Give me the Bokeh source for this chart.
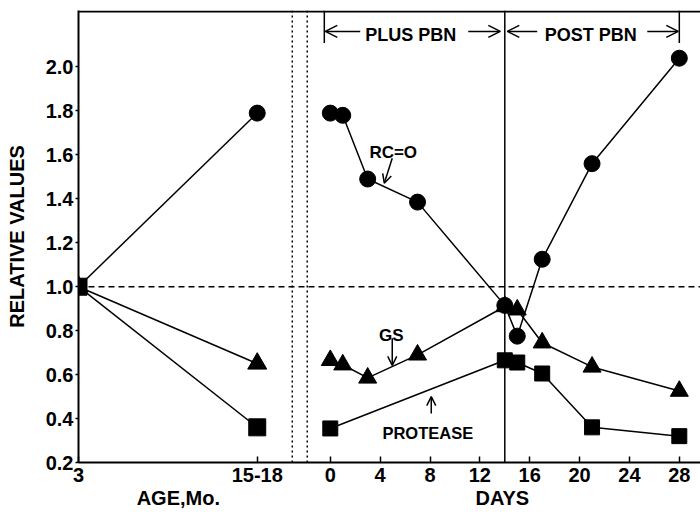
from bokeh.plotting import figure
from bokeh.models import (FixedTicker, Span, Label, Arrow, OpenHead, Range1d,
                          NumeralTickFormatter, LinearAxis)
from bokeh.embed import file_html
from bokeh.resources import INLINE

# ---------------- data ----------------
AGE_CATS = ["3", "15-18"]
RCO_AGE = [1.0, 1.79]
GS_AGE = [1.0, 0.65]
PROT_AGE = [1.0, 0.36]

RCO_DAYS = [0, 1, 3, 7, 14, 15, 17, 21, 28]
RCO_VALS = [1.79, 1.78, 1.49, 1.385, 0.915, 0.775, 1.125, 1.56, 2.04]

GS_DAYS = [0, 1, 3, 7, 14, 15, 17, 21, 28]
GS_VALS = [0.665, 0.645, 0.585, 0.69, 0.91, 0.895, 0.745, 0.635, 0.525]

PROT_DAYS = [0, 14, 15, 17, 21, 28]
PROT_VALS = [0.355, 0.665, 0.655, 0.605, 0.36, 0.32]

DAY_TICKS = [0, 4, 8, 12, 16, 20, 24, 28]
Y_TICKS = [0.2, 0.4, 0.6, 0.8, 1.0, 1.2, 1.4, 1.6, 1.8, 2.0]
X_TITLES = ["AGE,Mo.", "DAYS"]

# ---------------- layout ----------------
X_START, X_END = -20.2, 29.7
Y_START, Y_END = 0.2, 2.257
AGE_X = {"3": X_START, "15-18": -5.86}
age_x = [AGE_X[c] for c in AGE_CATS]
TITLE_X = {"AGE,Mo.": -12.19, "DAYS": 13.8}
FONT = "Liberation Sans"

p = figure(width=700, height=512, x_range=Range1d(X_START, X_END),
           y_range=Range1d(Y_START, Y_END), output_backend="svg",
           toolbar_location=None, min_border_left=78, min_border_right=0,
           min_border_top=10, min_border_bottom=50)
p.xgrid.visible = False
p.ygrid.visible = False
p.outline_line_color = None
p.background_fill_color = "white"
p.border_fill_color = "white"

# axes
p.xaxis.ticker = FixedTicker(ticks=age_x + DAY_TICKS)
p.xaxis.major_label_overrides = {AGE_X[c]: c for c in AGE_CATS}
p.xaxis.minor_tick_line_color = None
p.xaxis.major_tick_in = 6
p.xaxis.major_tick_out = 0
p.xaxis.axis_line_width = 2
p.xaxis.major_tick_line_width = 1.5
p.xaxis.major_label_standoff = 5
p.xaxis.major_label_text_font = FONT
p.xaxis.major_label_text_font_style = "bold"
p.xaxis.major_label_text_font_size = "20px"
p.xaxis.major_label_text_color = "black"

# second "axis" carrying the two panel titles
tax = LinearAxis(ticker=FixedTicker(ticks=[TITLE_X[t] for t in X_TITLES]),
                 major_label_overrides={TITLE_X[t]: t for t in X_TITLES},
                 axis_line_color=None, major_tick_line_color=None,
                 minor_tick_line_color=None, major_tick_in=0, major_tick_out=0,
                 major_label_standoff=2, major_label_text_font=FONT,
                 major_label_text_font_style="bold",
                 major_label_text_font_size="20px",
                 major_label_text_color="black")
p.add_layout(tax, "below")

p.yaxis.ticker = FixedTicker(ticks=Y_TICKS)
p.yaxis.formatter = NumeralTickFormatter(format="0.0")
p.yaxis.minor_tick_line_color = None
p.yaxis.major_tick_in = 0
p.yaxis.major_tick_out = 3
p.yaxis.axis_line_width = 2
p.yaxis.major_tick_line_width = 1.5
p.yaxis.major_label_standoff = 2
p.yaxis.major_label_text_font = FONT
p.yaxis.major_label_text_font_style = "bold"
p.yaxis.major_label_text_font_size = "20px"
p.yaxis.major_label_text_color = "black"
p.yaxis.axis_label = "RELATIVE VALUES"
p.yaxis.axis_label_text_font = FONT
p.yaxis.axis_label_text_font_style = "bold"
p.yaxis.axis_label_text_font_size = "20px"
p.yaxis.axis_label_text_color = "black"
p.yaxis.axis_label_standoff = 15

# top border
p.add_layout(Span(location=Y_END - 0.004, dimension="width", line_color="black", line_width=2))

# reference line at 1.0
p.add_layout(Span(location=1.0, dimension="width", line_color="black",
                  line_width=1.5, line_dash="6 4"))

# day-14 solid line
p.add_layout(Span(location=14, dimension="height", line_color="black", line_width=1.5))

# dotted separators
for xd in (-3.05, -1.85):
    p.add_layout(Span(location=xd, dimension="height", line_color="black",
                      line_width=1.5, line_dash="2 3"))

# series: age panel
LW = 1.5
for vals in (RCO_AGE, GS_AGE, PROT_AGE):
    p.line(age_x, vals, line_color="black", line_width=LW)
p.scatter(age_x, RCO_AGE, marker="circle", size=16, color="black")
p.scatter(age_x, GS_AGE, marker="triangle", size=19, color="black")
p.scatter(age_x, PROT_AGE, marker="square", size=17, color="black")

# series: days panel
p.line(RCO_DAYS, RCO_VALS, line_color="black", line_width=LW)
p.line(GS_DAYS, GS_VALS, line_color="black", line_width=LW)
p.line(PROT_DAYS, PROT_VALS, line_color="black", line_width=LW)
p.scatter(GS_DAYS, GS_VALS, marker="triangle", size=18, color="black")
p.scatter(PROT_DAYS, PROT_VALS, marker="square", size=15, color="black")
p.scatter(RCO_DAYS, RCO_VALS, marker="circle", size=16, color="black")

# bracket ticks
for xb in (-0.48, 28.0):
    p.add_layout(Arrow(end=None, x_start=xb, y_start=Y_END,
                       x_end=xb, y_end=2.109, line_color="black", line_width=1.5))

def harrow(x0, x1, y):
    p.add_layout(Arrow(end=OpenHead(size=12, line_width=1.5, line_color="black"),
                       x_start=x0, y_start=y, x_end=x1, y_end=y,
                       line_color="black", line_width=1.5))

YB = 2.162
harrow(2.4, -0.4, YB)
harrow(11.07, 13.64, YB)
harrow(16.6, 14.2, YB)
harrow(25.43, 27.92, YB)

def txt(x, y, s, size, align="center"):
    p.add_layout(Label(x=x, y=y, text=s, text_align=align, text_baseline="alphabetic",
                       text_font=FONT, text_font_style="bold",
                       text_font_size=size, text_color="black"))

txt(6.46, 2.146, "PLUS PBN", "18px")
txt(20.9, 2.146, "POST PBN", "18px")

# annotations
txt(5.05, 1.613, "RC=O", "17px")
p.add_layout(Arrow(end=OpenHead(size=9, line_width=1.5, line_color="black"),
                   x_start=4.97, y_start=1.585, x_end=4.33, y_end=1.471,
                   line_color="black", line_width=1.5))
txt(4.89, 0.779, "GS", "17px")
p.add_layout(Arrow(end=OpenHead(size=9, line_width=1.5, line_color="black"),
                   x_start=4.97, y_start=0.765, x_end=4.97, y_end=0.642,
                   line_color="black", line_width=1.5))
txt(7.82, 0.332, "PROTEASE", "16.5px")
p.add_layout(Arrow(end=OpenHead(size=9, line_width=1.5, line_color="black"),
                   x_start=8.1, y_start=0.423, x_end=8.1, y_end=0.5,
                   line_color="black", line_width=1.5))

open("out.html", "w").write(file_html(p, INLINE))
